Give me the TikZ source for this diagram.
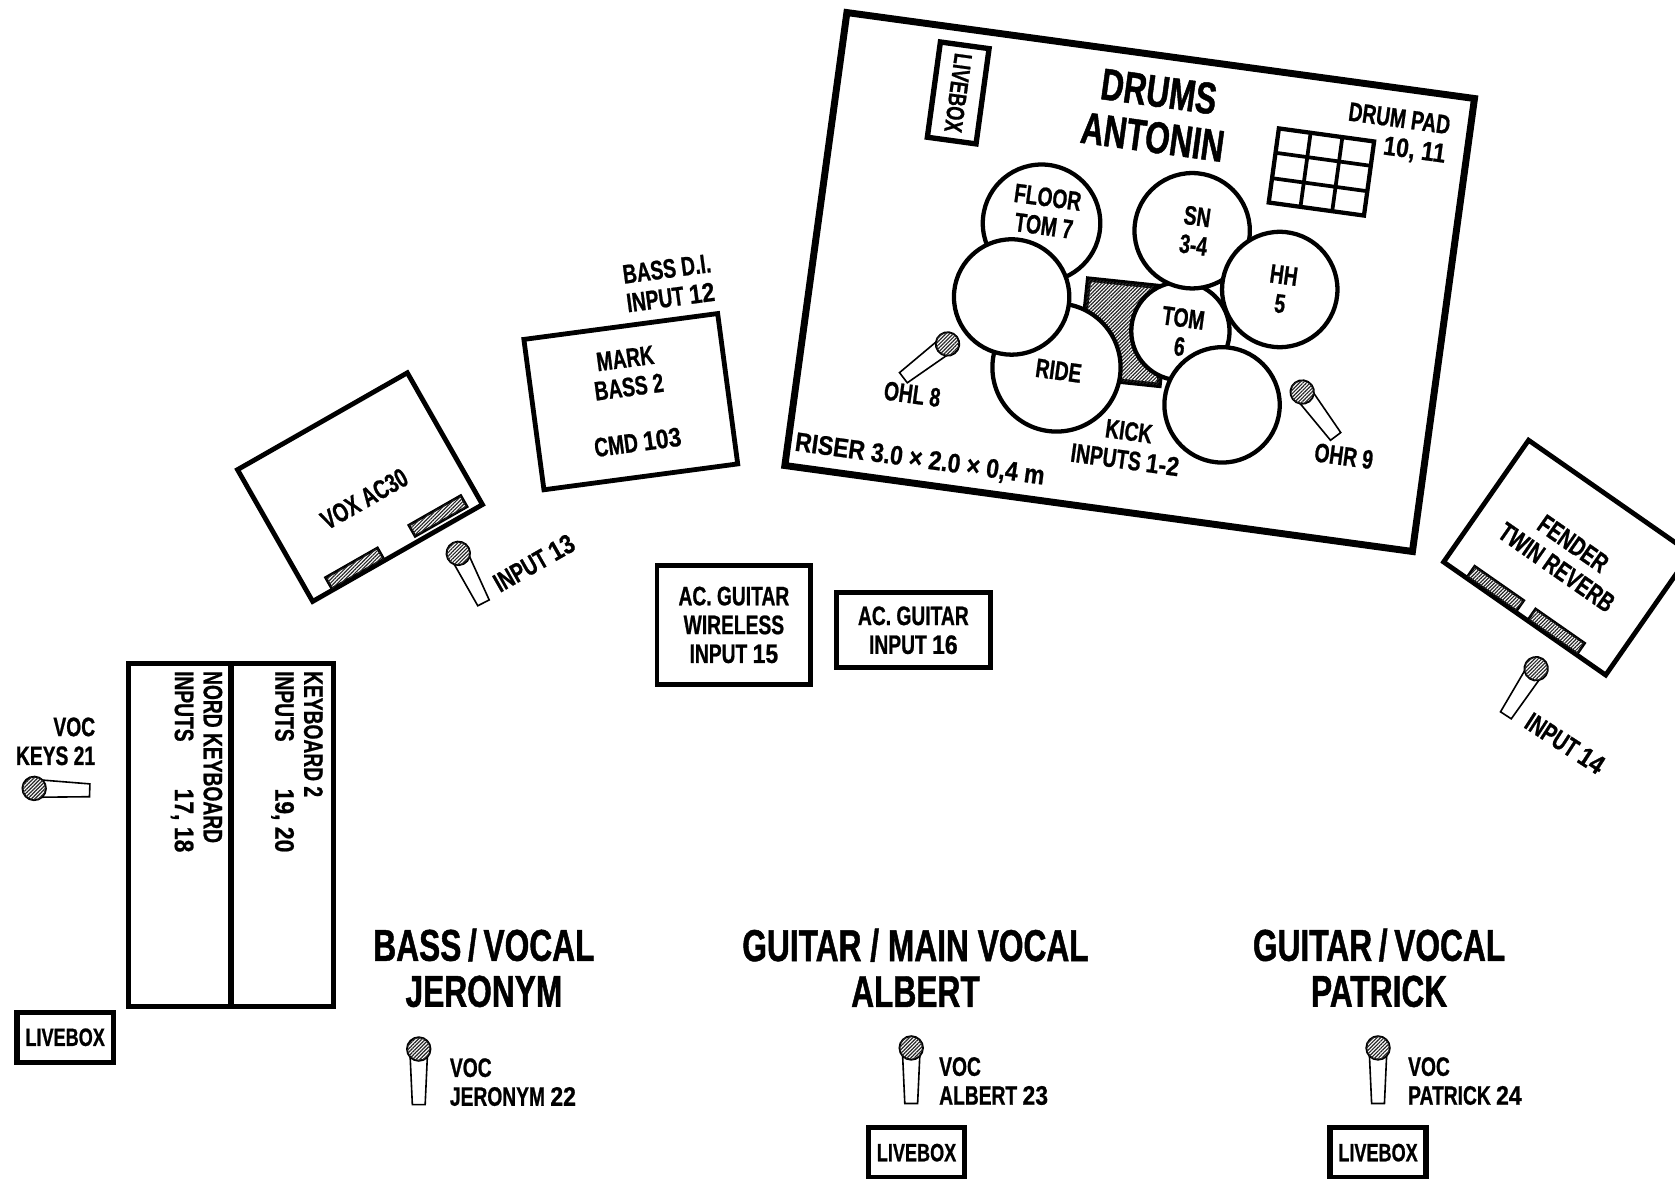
\documentclass[tikz,border=0pt]{standalone}
\usepackage{fontspec}
\setmainfont{Liberation Sans}[FakeStretch=0.72,BoldFeatures={FakeBold=0.8}]
\newfontfamily\titlefont{Liberation Sans}[FakeStretch=0.71,BoldFeatures={FakeBold=1.0}]
\newfontfamily\widefont{Liberation Sans}[FakeStretch=0.86,BoldFeatures={FakeBold=0.8}]
\newcommand\dg[1]{{\widefont #1}}
\usetikzlibrary{patterns.meta}
\tikzset{
  hatched/.style={fill=white,postaction={pattern={Lines[angle=45,distance=2.4pt,line width=1.1pt]},pattern color=black!85}},
  pics/mic/.style={code={
    \draw[line width=1.5pt,fill=white] (-8,8) -- (8,8) -- (6,52) -- (-6,52) -- cycle;
    \draw[hatched,line width=1.8pt] (0,0) circle (11);
  }}
}
\begin{document}
\begin{tikzpicture}[
  x=1pt,y=-1pt,
  every node/.style={font=\fontsize{25}{27}\selectfont\bfseries, align=center, inner sep=0pt},
  title/.style={font=\titlefont\fontsize{41.8}{43}\selectfont\bfseries},
  ampbox/.style={draw, line width=4.5pt, fill=white, minimum width=#1},
  ampbox/.default=183pt,
  speaker/.style={draw, hatched, line width=2.5pt, minimum width=56pt, minimum height=12pt},
  drum/.style={circle, draw, line width=4pt, fill=white, minimum size=#1},
  livebox/.style={draw, line width=5pt, fill=white, minimum width=90pt, minimum height=47pt, font=\fontsize{23.5}{25}\selectfont\bfseries}
]
\useasboundingbox (0,0) rectangle (1568,1103);

% riser
\node[draw, line width=6.5pt, minimum width=593pt, minimum height=428pt, rotate=-7.8] (riser) at (1057.5,264) {};
\node[livebox, rotate=-97.8, minimum height=46pt] (riserbox) at (897,87) {LIVEBOX};
\node[title, rotate=-7.8] (drumtitle) at (1082,107) {DRUMS\\ANTONIN};

% drum pad
\begin{scope}[shift={(1237,161)},rotate=-7.8]
  \node[draw, line width=4pt, minimum width=90pt, minimum height=70pt, rotate=-7.8] (padframe) at (0,0) {};
  \foreach \i in {-15,15} \draw[line width=3.5pt] (\i,-35) -- (\i,35);
  \foreach \j in {-12,12} \draw[line width=3.5pt] (-45,\j) -- (45,\j);
\end{scope}
\node[rotate=-7.8] (padlabel) at (1308,126) {DRUM PAD\\\hspace*{36pt}\dg{10, 11}};

% drums
\node[drum=110pt] (floortom) at (975,209) {};
\node[draw, hatched, line width=5pt, minimum width=76pt, minimum height=92pt, rotate=-6] (rack) at (1052,311) {};
\node[drum=92pt] (tom) at (1105,310) {};
\node[drum=120pt] (ride) at (989,344) {};
\node[drum=108pt] (crash) at (947,278) {};
\node[drum=108pt] (snare) at (1116,216) {};
\node[drum=108pt] (hihat) at (1198,271) {};
\node[drum=108pt] (kick) at (1144,379) {};

\node[rotate=-7.8] (floorlabel) at (979,198) {FLOOR\\TOM 7};
\node[rotate=-7.8] (snarelabel) at (1119,216) {SN\\3-4};
\node[rotate=-7.8] (hihatlabel) at (1200,271) {HH\\5};
\node[rotate=-7.8] (tomlabel) at (1106,311) {TOM\\6};
\node[rotate=-7.8] (ridelabel) at (991,347) {RIDE};
\node[rotate=-7.8] (kicklabel) at (1055,417) {KICK\\INPUTS \dg{1-2}};
\node[rotate=-7.8] (ohllabel) at (854,369) {OHL 8};
\node[rotate=-7.8] (ohrlabel) at (1258,427) {OHR 9};
\node[rotate=-7.8] (riserlabel) at (861,431) {\widefont RISER 3.0 × 2.0 × 0,4 m};
\pic[rotate=-52.6] at (887,322) {mic};
\pic[rotate=37] at (1219,367) {mic};

% amps
\node[ampbox, minimum height=142pt, rotate=7.6] (markbass) at (590.5,376) {};
\node[rotate=7.6] (marklabel) at (587,349) {MARK\\BASS 2};
\node[rotate=7.6] (cmdlabel) at (597,414) {CMD \dg{103}};
\node[rotate=7.6] (dilabel) at (626,265) {BASS D.I.\\INPUT \dg{12}};

\node[ampbox, minimum height=142pt, rotate=29.7] (vox) at (337,456) {};
\node[speaker, rotate=29.7] (voxleft) at (332,532) {};
\node[speaker, rotate=29.7] (voxright) at (410,483) {};
\node[rotate=29.7] (voxlabel) at (341,467) {VOX AC30};
\pic[rotate=27] at (429,518) {mic};
\node[rotate=29.7] (inputthirteen) at (500,527) {INPUT \dg{13}};

\node[ampbox=185pt, minimum height=139pt, rotate=-34.9] (fender) at (1467,522) {};
\node[speaker, rotate=-34.9] (fenderleft) at (1400,551) {};
\node[speaker, rotate=-34.9] (fenderright) at (1457,591) {};
\node[rotate=-34.9] (fenderlabel) at (1465,520) {FENDER\\TWIN REVERB};
\pic[rotate=-33] at (1438,626) {mic};
\node[rotate=-33] (inputfourteen) at (1465,696) {INPUT \dg{14}};

% acoustic guitars
\node[draw, line width=4.5pt, minimum width=144pt, minimum height=112pt] (acone) at (687,585) {AC. GUITAR\\WIRELESS\\INPUT \dg{15}};
\node[draw, line width=4.5pt, minimum width=144pt, minimum height=70pt] (actwo) at (855,590) {AC. GUITAR\\INPUT \dg{16}};

% keyboards
\node[draw, line width=5pt, minimum width=96pt, minimum height=321pt] (nord) at (168.5,781.5) {};
\node[draw, line width=5pt, minimum width=96pt, minimum height=321pt] (keytwo) at (264,781.5) {};
\node[rotate=-90, anchor=west, align=left] (nordlabel) at (184,628) {NORD KEYBOARD\\INPUTS\hspace{44pt}\dg{17, 18}};
\node[rotate=-90, anchor=west, align=left] (keylabel) at (278,628) {KEYBOARD 2\\INPUTS\hspace{44pt}\dg{19, 20}};
\node[align=right] (keysvoc) at (52,694) {VOC\\KEYS 21};
\pic[rotate=88] at (32,738) {mic};
\node[livebox] (boxleft) at (61,971) {LIVEBOX};

% front line
\node[title] (bass) at (453,906) {BASS\hspace{-2pt} / \hspace{-2pt}VOCAL\\JERONYM};
\node[title] (guitarmain) at (857,906) {GUITAR / MAIN VOCAL\\ALBERT};
\node[title] (guitartwo) at (1291,906) {GUITAR\hspace{-2pt} / \hspace{-2pt}VOCAL\\PATRICK};
\pic at (392,982) {mic};
\pic at (853,981) {mic};
\pic at (1290,981) {mic};
\node[anchor=west, align=left] (vocjeronym) at (421,1013) {VOC\\JERONYM \dg{22}};
\node[anchor=west, align=left] (vocalbert) at (879,1012) {VOC\\ALBERT \dg{23}};
\node[anchor=west, align=left] (vocpatrick) at (1318,1012) {VOC\\PATRICK \dg{24}};
\node[livebox] (boxmid) at (858,1079) {LIVEBOX};
\node[livebox] (boxright) at (1290,1079) {LIVEBOX};
\end{tikzpicture}
\end{document}
